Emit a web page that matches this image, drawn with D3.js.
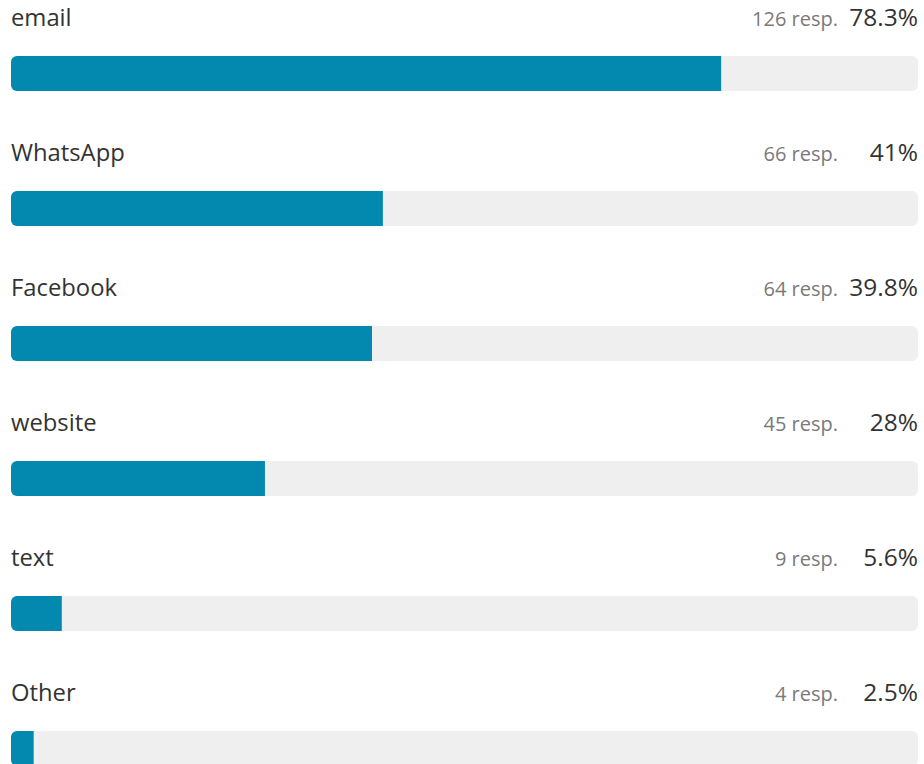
<!DOCTYPE html>
<html><head><meta charset="utf-8">
<script src="https://cdn.jsdelivr.net/npm/d3@7"></script>
<style>html,body{margin:0;padding:0;background:#fff;}svg{display:block;}</style>
</head><body>
<script>
const categories = ["email","WhatsApp","Facebook","website","text","Other"];
const responses = [126,66,64,45,9,4];
const percents = [78.3,41,39.8,28,5.6,2.5];
const percentLabels = ["78.3%","41%","39.8%","28%","5.6%","2.5%"];

const W = 924, H = 764;
const svg = d3.select("body").append("svg").attr("width", W).attr("height", H);
const font = "'Open Sans', 'Noto Sans', sans-serif";

const x = d3.scaleLinear().domain([0,100]).range([11,918]);
const y = d3.scaleBand().domain(categories).range([0, 135*categories.length]).paddingInner(0).paddingOuter(0);
const barH = 35, barOff = 56, textOff = 26, r = 6;

const data = categories.map((c,i)=>({c, n:responses[i], p:percents[i], pl:percentLabels[i]}));

const defs = svg.append("defs");
data.forEach((d,i)=>{
  defs.append("clipPath").attr("id","clip"+i).append("rect")
    .attr("x", x(0)).attr("y", y(d.c)+barOff).attr("width", x(100)-x(0)).attr("height", barH)
    .attr("rx", r).attr("ry", r);
});

const g = svg.selectAll("g.row").data(data).enter().append("g").attr("class","row");

g.append("rect")
  .attr("x", x(0)).attr("y", d=>y(d.c)+barOff)
  .attr("width", x(100)-x(0)).attr("height", barH)
  .attr("rx", r).attr("ry", r).attr("fill", "#efefef");

g.append("rect")
  .attr("clip-path", (d,i)=>"url(#clip"+i+")")
  .attr("x", x(0)).attr("y", d=>y(d.c)+barOff)
  .attr("width", d=>x(d.p)-x(0)).attr("height", barH)
  .attr("fill", "#0388b0");

g.append("text")
  .attr("x", x(0)).attr("y", d=>y(d.c)+textOff)
  .attr("font-family", font).attr("font-size", 23.8).attr("fill", "#333")
  .text(d=>d.c);

g.append("text")
  .attr("x", 838).attr("y", d=>y(d.c)+textOff)
  .attr("text-anchor","end")
  .attr("font-family", font).attr("font-size", 20).attr("fill", "#7a7a7a")
  .text(d=>d.n+" resp.");

g.append("text")
  .attr("x", x(100)).attr("y", d=>y(d.c)+textOff)
  .attr("text-anchor","end")
  .attr("font-family", font).attr("font-size", 24.5).attr("fill", "#333")
  .text(d=>d.pl);
</script>
</body></html>
